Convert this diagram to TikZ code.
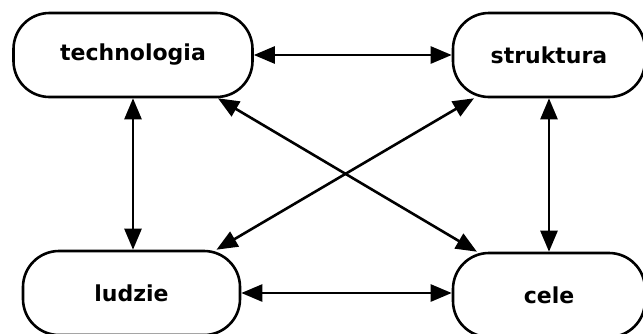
\documentclass[tikz,border=0pt]{standalone}
\usepackage{fontspec}
\setmainfont{DejaVu Sans}
\usetikzlibrary{arrows.meta}

\begin{document}
\begin{tikzpicture}[x=1pt,y=-1pt,
  box/.style={draw,line width=2.6pt,rounded corners=36pt,minimum height=84pt,
    font=\fontsize{22}{25}\selectfont\bfseries,inner sep=0pt},
  link/.style={line width=2.6pt,{Triangle[length=21pt,width=17pt]}-{Triangle[length=21pt,width=17pt]}}]

  \useasboundingbox (0,0) rectangle (643,333);
  \fill[white] (0,0) rectangle (643,333);

  \node [box,minimum width=239pt] (tech) at (133,55) {technologia};
  \node [box,minimum width=192pt] (strukt) at (549,55) {struktura};
  \node [box,minimum width=217pt] (ludzie) at (131.5,293) {ludzie};
  \node [box,minimum width=192pt] (cele) at (549,295) {cele};

  \draw [link] (tech.east) -- (strukt.west);
  \draw [link] (ludzie.east |- 0,293) -- (cele.west |- 0,293);
  \draw [link] (tech.south) -- (tech.south |- ludzie.north);
  \draw [link] (strukt.south) -- (strukt.south |- cele.north);
  \draw [link] (tech.-27.7) -- (cele.149.4);
  \draw [link] (strukt.210.3) -- (ludzie.27.3);
\end{tikzpicture}
\end{document}
